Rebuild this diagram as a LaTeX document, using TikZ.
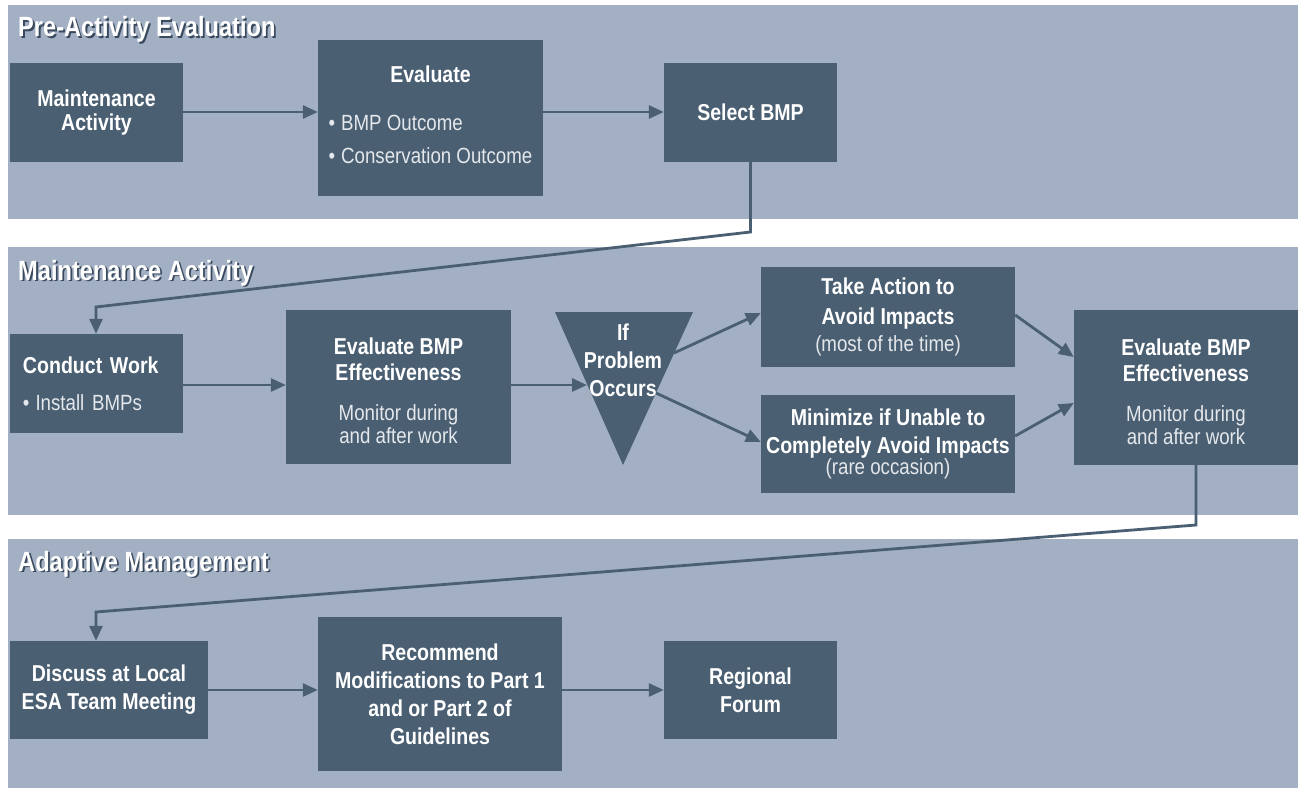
\documentclass[tikz,border=0pt]{standalone}
\usepackage{fontspec}
\setmainfont{Liberation Sans}[FakeStretch=0.85]
\usetikzlibrary{arrows.meta}
\definecolor{panelc}{HTML}{A3B0C3}
\definecolor{boxc}{HTML}{4A5F72}
\definecolor{subc}{HTML}{E4E8EC}
\definecolor{shadc}{HTML}{3A4A5E}
\newcommand\Bx{\fontsize{23}{26}\selectfont\bfseries}
\newcommand\Rx{\fontsize{22}{24}\selectfont\mdseries\color{subc}}
\newcommand\Tx{\fontsize{27.8}{30}\selectfont\bfseries}
\tikzset{
  panel/.style={fill=panelc, draw=none},
  box/.style={fill=boxc, draw=none, text=white, inner sep=0pt, align=center, font=\Bx},
  arr/.style={draw=boxc, line width=2.8pt, line join=miter, -{Triangle[length=15pt,width=13pt]}},
  ttl/.style={anchor=base west, inner sep=0pt, font=\Tx, text=white},
  ttlsh/.style={ttl, text=shadc},
  tri/.style={fill=boxc, draw=none},
}
\begin{document}
\begin{tikzpicture}[x=1pt, y=-1pt]
\fill[white] (0,0) rectangle (1298,794);
\useasboundingbox (0,0) rectangle (1298,794);
% panels
\fill[panel] (8,5) rectangle (1298,219);
\fill[panel] (8,247) rectangle (1298,515);
\fill[panel] (8,539) rectangle (1298,788);
% titles
\node[ttlsh] (t1s) at (19.8,38.8) {Pre-Activity Evaluation};
\node[ttl] (t1) at (18,37) {Pre-Activity Evaluation};
\node[ttlsh] (t2s) at (19.8,281.8) {Maintenance Activity};
\node[ttl] (t2) at (18,280) {Maintenance Activity};
\node[ttlsh] (t3s) at (19.8,572.8) {Adaptive Management};
\node[ttl] (t3) at (18,571) {Adaptive Management};
% panel 1
\node[box, minimum width=173pt, minimum height=99pt] (ma) at (96.5,112.5) {Maintenance\\[-2pt]Activity};
\node[box, minimum width=225pt, minimum height=156pt] (ev) at (430.5,118)
  {Evaluate\\[22pt]{\Rx\begin{tabular}[t]{@{}l@{}}•\hspace{6pt}BMP Outcome\\[9pt]•\hspace{6pt}Conservation Outcome\end{tabular}}};
\node[box, minimum width=173pt, minimum height=99pt] (sel) at (750.5,112.5) {Select BMP};
% panel 2
\node[box, minimum width=173pt, minimum height=99pt, text width=147pt, inner xsep=13pt, align=left] (cw) at (96.5,383.5)
  {Conduct Work\\[11pt]{\Rx •\hspace{6pt}Install BMPs}};
\node[box, minimum width=225pt, minimum height=154pt] (eb) at (398.5,387)
  {\rule{0pt}{25pt}Evaluate BMP\\Effectiveness\\[14pt]{\Rx Monitor during}\\[-3pt]{\Rx and after work}};
\fill[tri] (555,312) -- (693,312) -- (623,465) -- cycle;
\node[font=\Bx, text=white, align=center, inner sep=0pt] (prob) at (623,360) {If\\[2pt]Problem\\[2pt]Occurs};
\node[box, minimum width=254pt, minimum height=100pt] (ta) at (888,317)
  {Take Action to\\[4pt]Avoid Impacts\\[1pt]{\Rx (most of the time)}};
\node[box, minimum width=254pt, minimum height=98pt] (mi) at (888,444)
  {Minimize if Unable to\\[2pt]Completely Avoid Impacts\\[-5pt]{\Rx (rare occasion)}};
\node[box, minimum width=224pt, minimum height=155pt] (e2) at (1186,387.5)
  {\rule{0pt}{25pt}Evaluate BMP\\Effectiveness\\[14pt]{\Rx Monitor during}\\[-3pt]{\Rx and after work}};
% panel 3
\node[box, minimum width=198pt, minimum height=98pt] (disc) at (109,690) {Discuss at Local\\[2pt]ESA Team Meeting};
\node[box, minimum width=244pt, minimum height=154pt] (rec) at (440,694)
  {Recommend\\[2pt]Modifications to Part 1\\[2pt]and or Part 2 of\\[2pt]Guidelines};
\node[box, minimum width=173pt, minimum height=98pt] (reg) at (750.5,690) {Regional\\[2pt]Forum};
% connector coordinates
\coordinate (k1) at (750.5,232);
\coordinate (k2) at (96,307);
\coordinate (k3) at (1196,525);
\coordinate (k4) at (96,612);
\coordinate (tin) at (587,385);
\coordinate (tu) at (674,353);
\coordinate (td) at (656,393);
% arrows panel 1
\draw[arr] (ma.east |- 0,112) -- (ev.west |- 0,112);
\draw[arr] (ev.east |- 0,112) -- (sel.west |- 0,112);
\draw[arr] (sel.south) -- (k1) -- (k2) -- (k2 |- cw.north);
% arrows panel 2
\draw[arr] (cw.east |- 0,385) -- (eb.west |- 0,385);
\draw[arr] (eb.east |- tin) -- (tin);
\draw[arr] (tu) -- (ta.west |- 0,313);
\draw[arr] (td) -- (mi.west |- 0,442);
\draw[arr] (ta.east |- 0,315) -- (e2.west |- 0,357);
\draw[arr] (mi.east |- 0,436) -- (e2.west |- 0,403);
\draw[arr] (e2.south -| k3) -- (k3) -- (k4) -- (k4 |- disc.north);
% arrows panel 3
\draw[arr] (disc.east) -- (disc.east -| rec.west);
\draw[arr] (rec.east |- reg.west) -- (reg.west);
\end{tikzpicture}
\end{document}
